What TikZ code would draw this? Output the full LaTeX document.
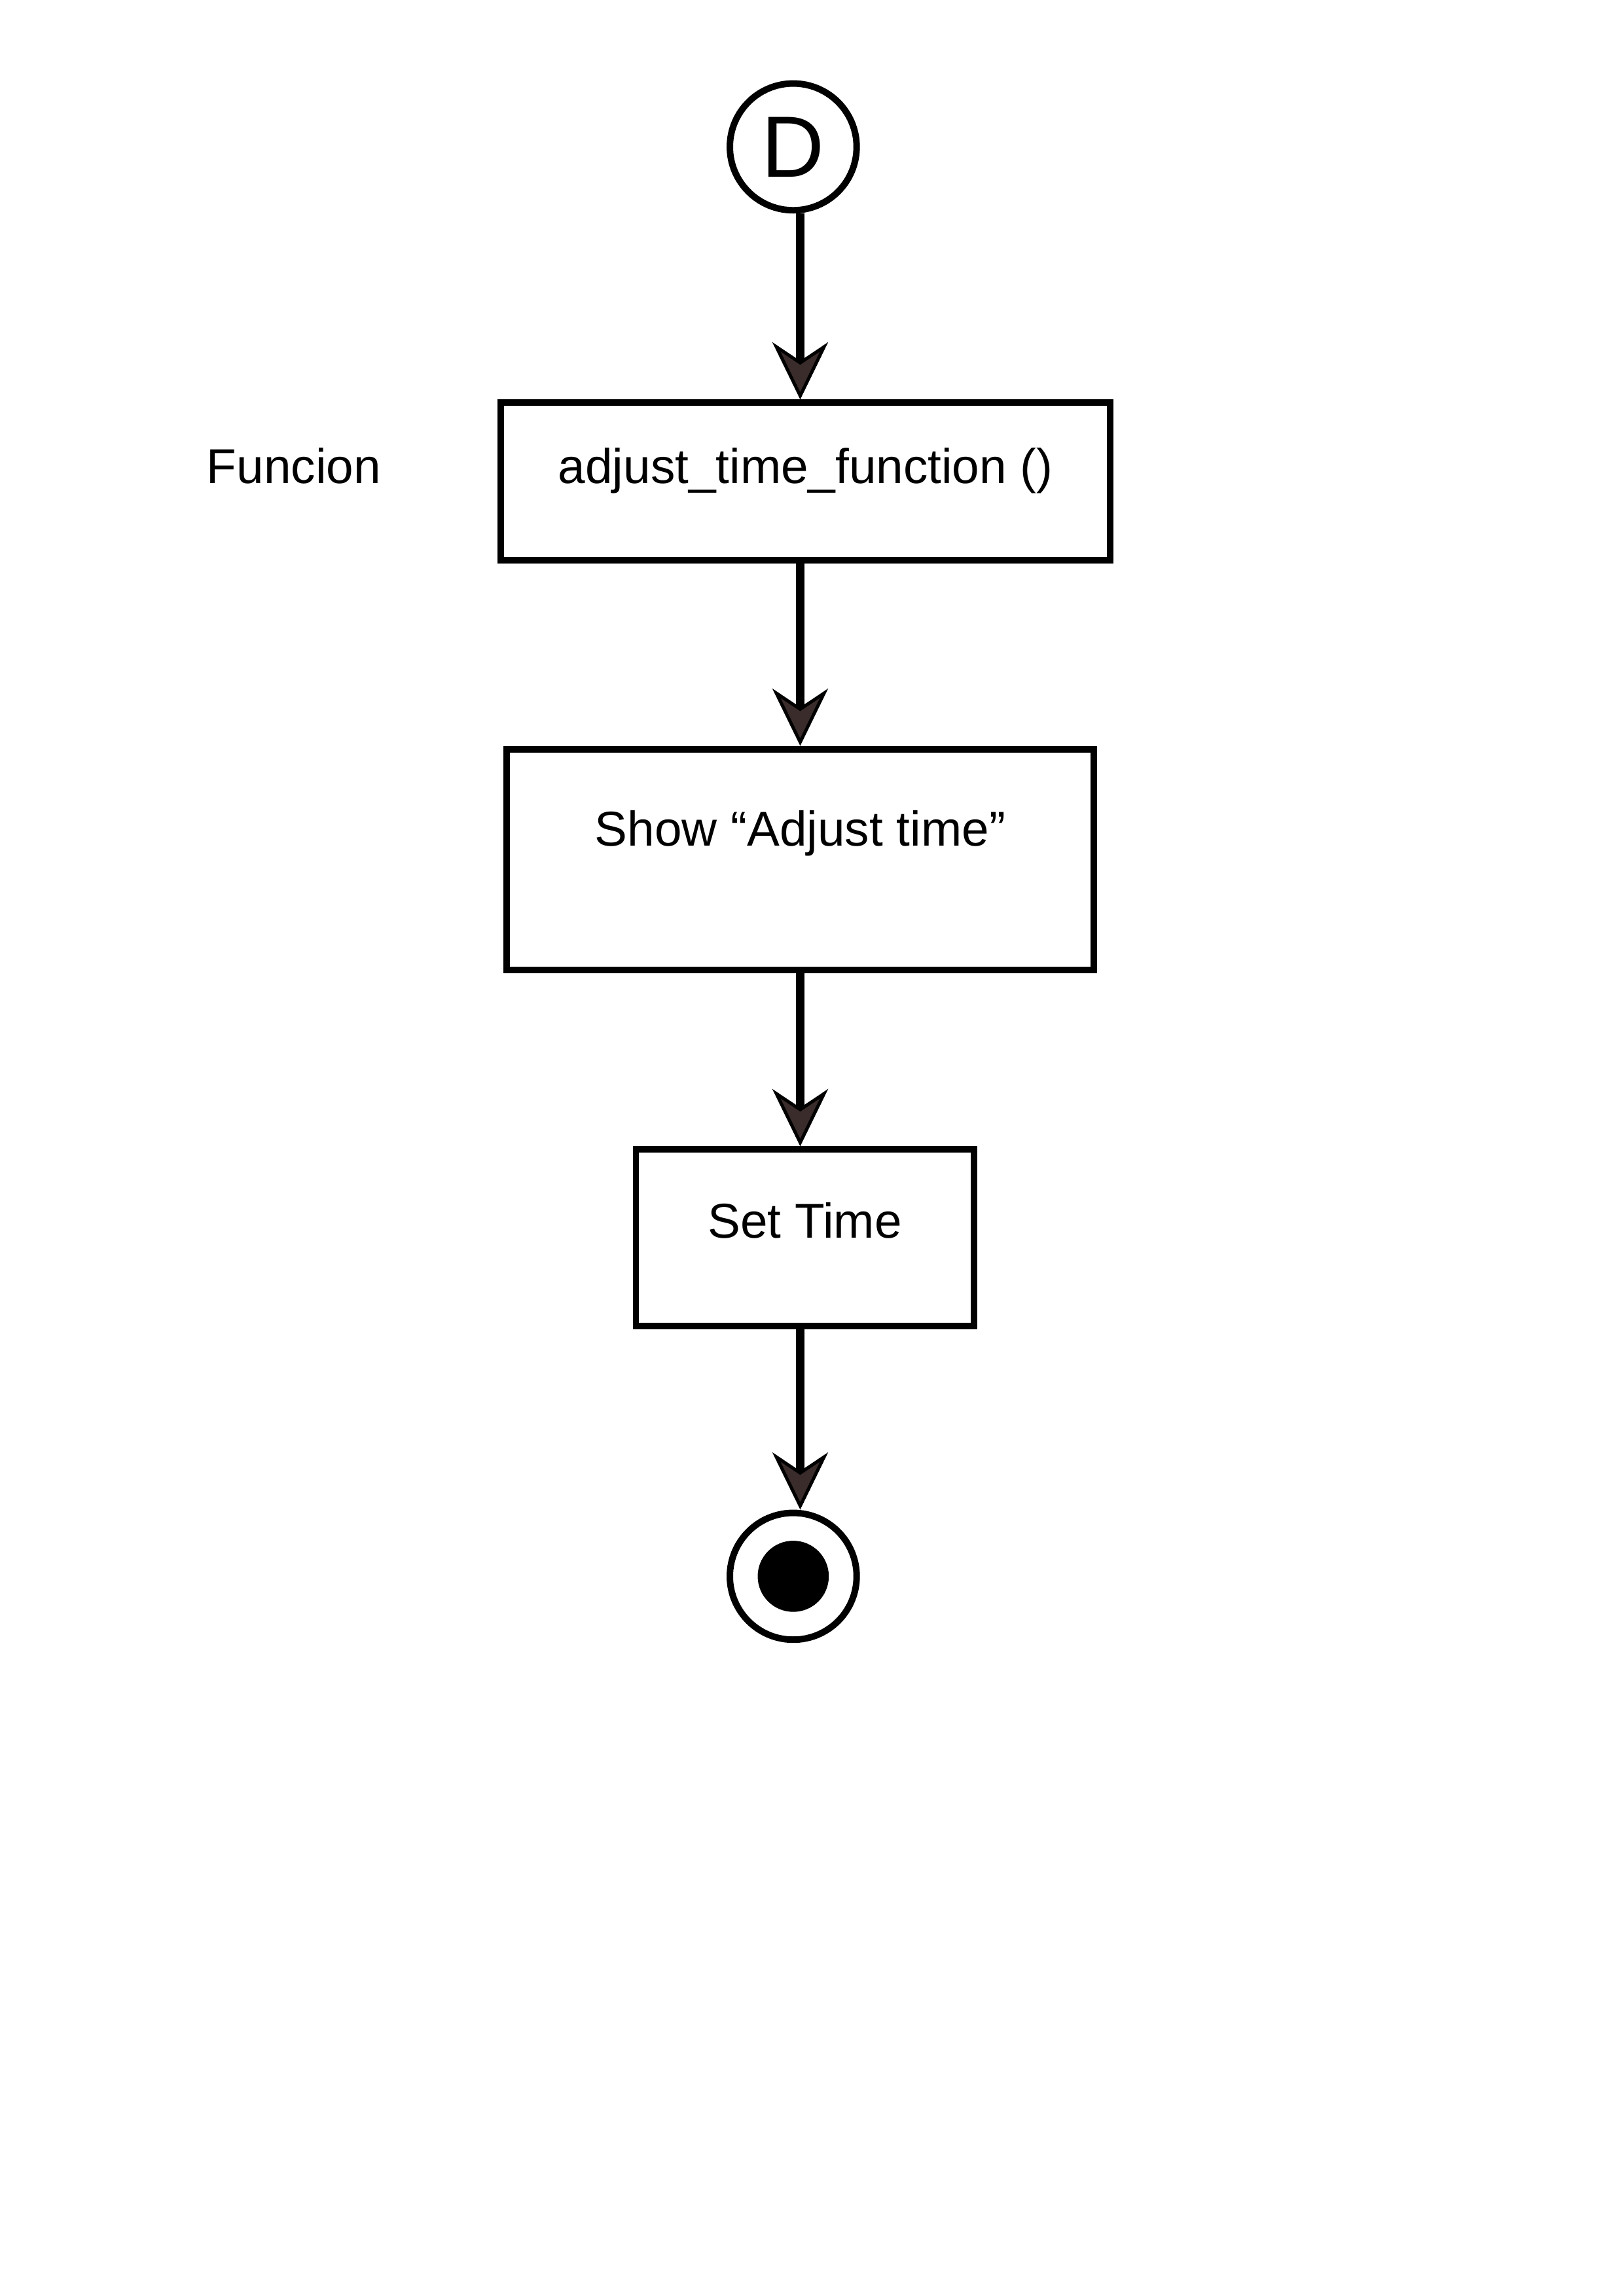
\documentclass[tikz,border=0pt]{standalone}
\usepackage{fontspec}
\setmainfont{Liberation Sans}
\usetikzlibrary{arrows.meta}
\definecolor{tipbrown}{HTML}{3B2C2C}
\begin{document}
\begin{tikzpicture}[x=1cm,y=1cm,
  actbox/.style={draw, line width=2.4pt, inner sep=0pt, anchor=base, font=\fontsize{18}{22}\selectfont},
  flow/.style={line width=3pt, -{Stealth[length=0.74cm, width=0.72cm, inset=0.24cm, fill=tipbrown, line width=1.2pt]}}]
\useasboundingbox (0,0) rectangle (21,-29.7);
\node[draw, circle, line width=2.4pt, minimum size=1.64cm, inner sep=0pt, font=\fontsize{32}{32}\selectfont] (d) at (10.26,-1.90) {D};
\node[actbox, minimum width=7.88cm, text height=1.04cm, text depth=1.00cm] (adj) at (10.42,-6.25) {adjust\_time\_function ()};
\node[anchor=base, font=\fontsize{18}{22}\selectfont] (lbl) at (3.80,-6.25) {Funcion};
\node[actbox, minimum width=7.59cm, text height=1.25cm, text depth=1.61cm] (show) at (10.35,-10.94) {Show “Adjust time”};
\node[actbox, minimum width=4.37cm, text height=1.14cm, text depth=1.14cm] (set) at (10.41,-16.01) {Set Time};
\node[draw, circle, line width=2.4pt, minimum size=1.64cm, inner sep=0pt] (end) at (10.26,-20.39) {};
\fill (end.center) circle (0.46);
\draw[flow] (show.north |- d.south) -- (show.north |- adj.north);
\draw[flow] (show.north |- adj.south) -- (show.north);
\draw[flow] (show.south) -- (show.south |- set.north);
\draw[flow] (show.south |- set.south) -- (show.south |- end.north);
\end{tikzpicture}
\end{document}
